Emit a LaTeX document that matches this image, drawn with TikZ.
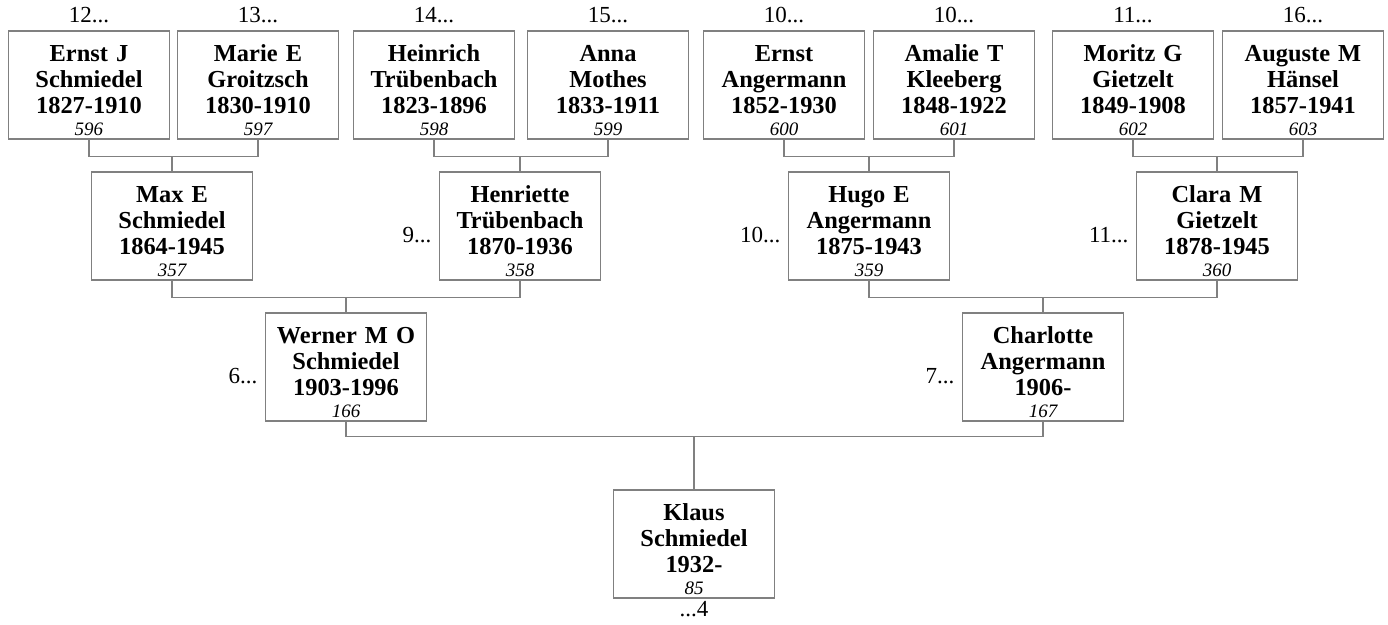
\documentclass[tikz,border=0pt]{standalone}
\usepackage{fontspec}
\setmainfont{Liberation Serif}
\usetikzlibrary{positioning}
\definecolor{rahmen}{RGB}{128,128,128}
\newcommand\oben{\rule{0pt}{13.5pt}}
\newcommand\nr[1]{\\[-2pt]{\normalfont\itshape\fontsize{9.5}{10}\selectfont #1}}

\begin{document}
\begin{tikzpicture}[x=0.5pt,y=-0.5pt,
    person/.style={draw=rahmen, line width=0.7pt, minimum width=80.5pt, minimum height=54pt,
        inner sep=0pt, text width=79pt, align=center, font=\bfseries\fontsize{12.2}{13}\selectfont},
    lbl/.style={font=\fontsize{11.5}{13}\selectfont, inner sep=1pt},
    linie/.style={draw=rahmen, line width=0.7pt}]

    \useasboundingbox (0,0) rectangle (1388,625);

    \node[person] (p596) at (89,85)   {\oben Ernst J\\Schmiedel\\1827-1910\nr{596}};
    \node[person] (p597) at (258,85)  {\oben Marie E\\Groitzsch\\1830-1910\nr{597}};
    \node[person] (p598) at (434,85)  {\oben Heinrich\\Trübenbach\\1823-1896\nr{598}};
    \node[person] (p599) at (608,85)  {\oben Anna\\Mothes\\1833-1911\nr{599}};
    \node[person] (p600) at (784,85)  {\oben Ernst\\Angermann\\1852-1930\nr{600}};
    \node[person] (p601) at (954,85)  {\oben Amalie T\\Kleeberg\\1848-1922\nr{601}};
    \node[person] (p602) at (1133,85) {\oben Moritz G\\Gietzelt\\1849-1908\nr{602}};
    \node[person] (p603) at (1303,85) {\oben Auguste M\\Hänsel\\1857-1941\nr{603}};

    \node[lbl, above=2.5pt of p596] (l596) {12...};
    \node[lbl, above=2.5pt of p597] (l597) {13...};
    \node[lbl, above=2.5pt of p598] (l598) {14...};
    \node[lbl, above=2.5pt of p599] (l599) {15...};
    \node[lbl, above=2.5pt of p600] (l600) {10...};
    \node[lbl, above=2.5pt of p601] (l601) {10...};
    \node[lbl, above=2.5pt of p602] (l602) {11...};
    \node[lbl, above=2.5pt of p603] (l603) {16...};

    \node[person] (p357) at (172,226)  {\oben Max E\\Schmiedel\\1864-1945\nr{357}};
    \node[person] (p358) at (520,226)  {\oben Henriette\\Trübenbach\\1870-1936\nr{358}};
    \node[person] (p359) at (869,226)  {\oben Hugo E\\Angermann\\1875-1943\nr{359}};
    \node[person] (p360) at (1217,226) {\oben Clara M\\Gietzelt\\1878-1945\nr{360}};

    \node[lbl, left=2.5pt of p358, yshift=-4.5pt] (l358) {9...};
    \node[lbl, left=2.5pt of p359, yshift=-4.5pt] (l359) {10...};
    \node[lbl, left=2.5pt of p360, yshift=-4.5pt] (l360) {11...};

    \node[person] (p166) at (346,367)  {\oben Werner M O\\Schmiedel\\1903-1996\nr{166}};
    \node[person] (p167) at (1043,367) {\oben Charlotte\\Angermann\\1906-\nr{167}};

    \node[lbl, left=2.5pt of p166, yshift=-4.5pt] (l166) {6...};
    \node[lbl, left=2.5pt of p167, yshift=-4.5pt] (l167) {7...};

    \node[person] (p85) at (694,544) {\oben Klaus\\Schmiedel\\1932-\nr{85}};
    \node[lbl, below=0pt of p85] (l85) {...4};

    \draw[linie] (p596.south) -- ++(0,17) coordinate (b357) -| (p597.south);
    \draw[linie] (b357 -| p357.north) -- (p357.north);
    \draw[linie] (p598.south) -- ++(0,17) coordinate (b358) -| (p599.south);
    \draw[linie] (b358 -| p358.north) -- (p358.north);
    \draw[linie] (p600.south) -- ++(0,17) coordinate (b359) -| (p601.south);
    \draw[linie] (b359 -| p359.north) -- (p359.north);
    \draw[linie] (p602.south) -- ++(0,17) coordinate (b360) -| (p603.south);
    \draw[linie] (b360 -| p360.north) -- (p360.north);

    \draw[linie] (p357.south) -- ++(0,17) coordinate (b166) -| (p358.south);
    \draw[linie] (b166 -| p166.north) -- (p166.north);
    \draw[linie] (p359.south) -- ++(0,17) coordinate (b167) -| (p360.south);
    \draw[linie] (b167 -| p167.north) -- (p167.north);

    \draw[linie] (p166.south) -- ++(0,15) coordinate (b85) -| (p167.south);
    \draw[linie] (b85 -| p85.north) -- (p85.north);

\end{tikzpicture}
\end{document}
